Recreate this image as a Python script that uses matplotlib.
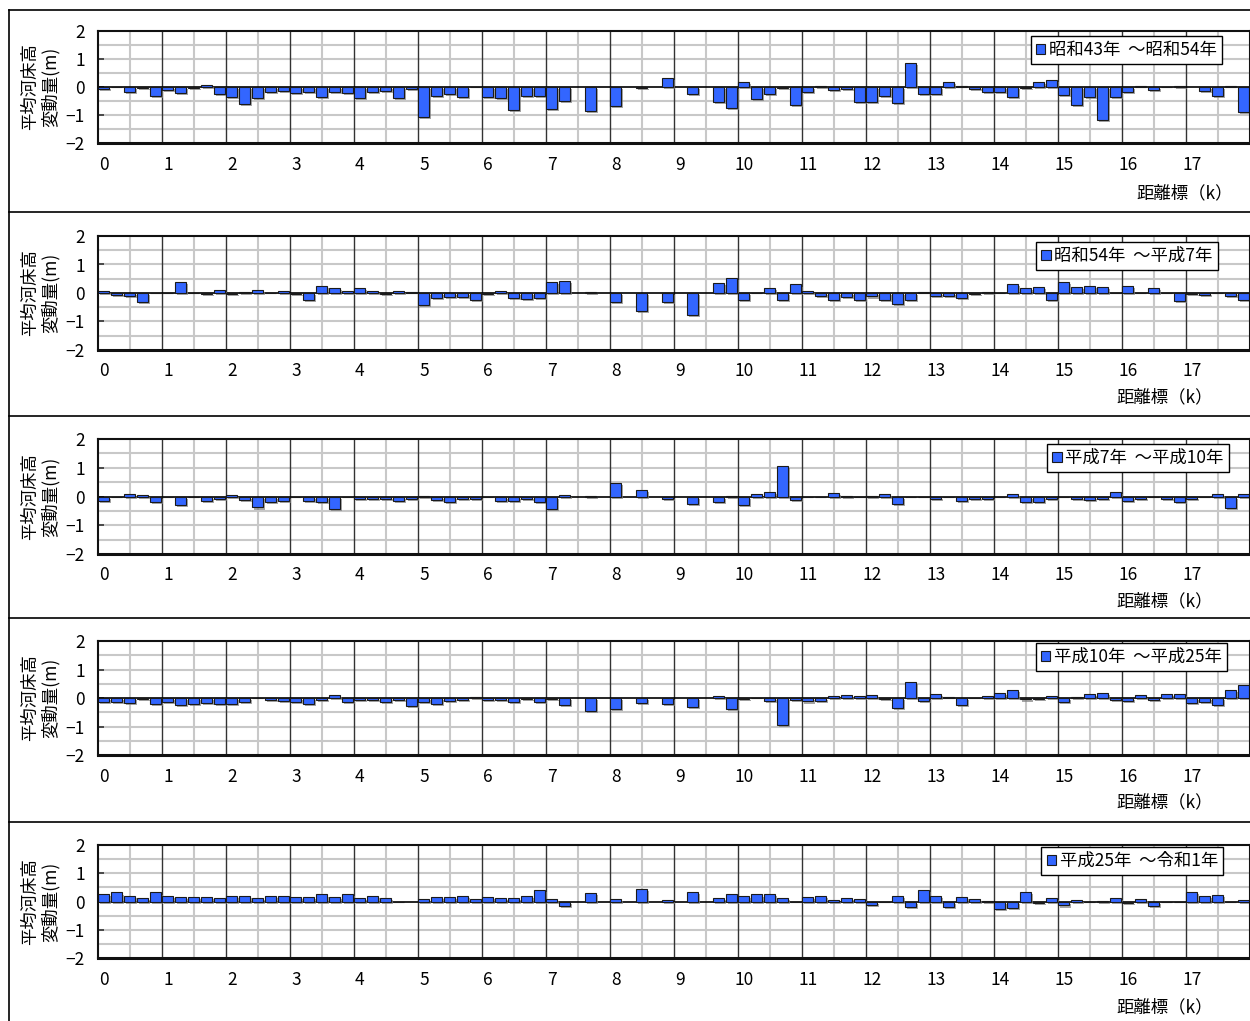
import numpy as np
import matplotlib
matplotlib.use('Agg')
import matplotlib.pyplot as plt
from matplotlib.patches import Patch
from matplotlib.lines import Line2D
import matplotlib.patheffects as pe

plt.rcParams['font.family'] = ['Noto Sans CJK JP', 'DejaVu Sans']

nan = None

# distance markers (km), one category every 0.2 km
distance_km = [round(0.2 * i, 1) for i in range(90)]
tick_values = list(range(18))
tick_labels = [str(v) for v in tick_values]
y_ticks = [2, 1, 0, -1, -2]
y_tick_labels = ['2', '1', '0', '\u22121', '\u22122']

periods = ['昭和43年  ～昭和54年', '昭和54年  ～平成7年', '平成7年  ～平成10年',
           '平成10年  ～平成25年', '平成25年  ～令和1年']

s43_54 = [-0.07, 0, -0.18, -0.02, -0.33, -0.12, -0.21, -0.02, 0.07, -0.24,
          -0.36, -0.59, -0.39, -0.18, -0.15, -0.21, -0.19, -0.36, -0.19, -0.21,
          -0.39, -0.18, -0.13, -0.39, -0.07, -1.07, -0.32, -0.26, -0.36, 0,
          -0.36, -0.39, -0.81, -0.33, -0.32, -0.78, -0.49, nan, -0.85, nan,
          -0.68, nan, -0.03, nan, 0.33, nan, -0.24, nan, -0.53, -0.76,
          0.18, -0.44, -0.24, -0.02, -0.65, -0.18, 0.04, -0.10, -0.07, -0.53,
          -0.53, -0.32, -0.57, 0.87, -0.26, -0.24, 0.18, 0.02, -0.07, -0.19,
          -0.19, -0.36, -0.02, 0.19, 0.24, -0.30, -0.65, -0.34, -1.19, -0.34,
          -0.19, 0.02, -0.10, 0, 0.05, nan, -0.13, -0.32, 0.02, -0.90]

s54_h7 = [0.07, -0.08, -0.10, -0.33, 0, 0, 0.38, 0, -0.02, 0.10,
          -0.02, 0.05, 0.12, 0, 0.07, -0.02, -0.24, 0.26, 0.18, 0.07,
          0.18, 0.06, -0.02, 0.06, 0.02, -0.42, -0.18, -0.13, -0.14, -0.24,
          -0.02, 0.07, -0.18, -0.21, -0.17, 0.39, 0.42, nan, 0.04, nan,
          -0.31, nan, -0.63, nan, -0.32, nan, -0.78, nan, 0.34, 0.52,
          -0.25, 0, 0.18, -0.25, 0.30, 0.07, -0.10, -0.26, -0.14, -0.25,
          -0.12, -0.26, -0.39, -0.25, 0.02, -0.10, -0.10, -0.18, -0.03, 0.03,
          0, 0.33, 0.18, 0.21, -0.26, 0.40, 0.21, 0.25, 0.20, 0,
          0.26, 0, 0.18, 0, -0.28, -0.03, -0.08, 0, -0.09, -0.25]

h7_h10 = [-0.15, -0.02, 0.08, 0.06, -0.20, -0.03, -0.29, 0, -0.15, -0.07,
          0.04, -0.12, -0.38, -0.18, -0.14, -0.03, -0.16, -0.19, -0.44, -0.02,
          -0.10, -0.10, -0.10, -0.15, -0.10, 0.03, -0.13, -0.19, -0.08, -0.07,
          0, -0.15, -0.15, -0.10, -0.19, -0.44, 0.04, nan, 0.03, nan,
          0.46, nan, 0.22, nan, -0.10, nan, -0.26, nan, -0.18, 0.03,
          -0.28, 0.07, 0.15, 1.05, -0.12, -0.02, 0, 0.12, 0.03, 0,
          0.03, 0.10, -0.25, -0.02, -0.02, -0.08, 0, -0.15, -0.08, -0.08,
          -0.02, 0.08, -0.20, -0.19, -0.08, -0.03, -0.08, -0.13, -0.09, 0.16,
          -0.14, -0.09, -0.03, -0.07, -0.18, -0.08, -0.02, 0.08, -0.40, 0.10]

h10_h25 = [-0.15, -0.15, -0.16, -0.04, -0.22, -0.13, -0.26, -0.22, -0.19, -0.22,
           -0.22, -0.15, 0, -0.07, -0.10, -0.13, -0.22, -0.08, 0.10, -0.15,
           -0.07, -0.07, -0.14, -0.07, -0.29, -0.15, -0.22, -0.10, -0.07, 0.04,
           -0.07, -0.07, -0.13, -0.03, -0.15, -0.03, -0.26, nan, -0.47, nan,
           -0.40, nan, -0.18, nan, -0.22, nan, -0.32, nan, 0.07, -0.39,
           -0.02, 0, -0.10, -0.95, -0.08, -0.12, -0.09, 0.07, 0.10, 0.06,
           0.12, -0.02, -0.35, 0.55, -0.09, 0.14, 0.02, -0.25, 0, 0.07,
           0.18, 0.29, -0.05, -0.02, 0.07, -0.13, 0.05, 0.13, 0.18, -0.08,
           -0.10, 0.09, -0.07, 0.15, 0.15, -0.16, -0.15, -0.25, 0.27, 0.46]

h25_r1 = [0.26, 0.32, 0.21, 0.12, 0.32, 0.18, 0.16, 0.16, 0.16, 0.14,
          0.18, 0.21, 0.13, 0.21, 0.18, 0.16, 0.16, 0.25, 0.16, 0.28,
          0.13, 0.20, 0.13, -0.02, nan, 0.10, 0.16, 0.16, 0.20, 0.10,
          0.15, 0.14, 0.14, 0.18, 0.42, 0.10, -0.16, nan, 0.30, nan,
          0.10, nan, 0.46, nan, 0.07, nan, 0.35, nan, 0.14, 0.25,
          0.19, 0.25, 0.27, 0.13, 0, 0.15, 0.19, 0.07, 0.12, 0.10,
          -0.13, 0, 0.18, -0.18, 0.40, 0.18, -0.19, 0.16, 0.08, 0.03,
          -0.27, -0.22, 0.33, -0.06, 0.12, -0.14, 0.06, -0.02, 0.03, 0.14,
          -0.05, 0.08, -0.15, -0.02, 0, 0.33, 0.21, 0.22, 0, 0.04]

series = [s43_54, s54_h7, h7_h10, h10_h25, h25_r1]

W, H = 1250, 1021
fig = plt.figure(figsize=(W / 100, H / 100), dpi=100)

ax_px = [(31, 143), (236, 350), (439, 554), (641, 755), (845, 958)]
legend_px = [(1222, 36), (1218, 242), (1229, 444), (1227, 643), (1223, 847)]
xlabel_px = [(1185, 193), (1165, 397), (1165, 601), (1165, 802), (1165, 1007)]
L, R = 97.5, 1249.5

bar_color = '#3366FF'
edge_color = '#1a1a1a'
FS = 12.5

for i in range(5):
    top, bot = ax_px[i]
    ax = fig.add_axes([L / W, 1 - bot / H, (R - L) / W, (bot - top) / H])
    vals = np.array([np.nan if v is None else v for v in series[i]], dtype=float)
    bars = ax.bar(distance_km, vals, width=0.2 * 0.86, color=bar_color,
                  edgecolor=edge_color, linewidth=0.8, zorder=3)
    for b in bars:
        b.set_path_effects([pe.SimplePatchShadow(offset=(1.5, -1.5),
                                                 shadow_rgbFace='#808080', alpha=0.7),
                            pe.Normal()])
    ax.set_xlim(-0.1, 17.9)
    ax.set_ylim(-2, 2)
    for y in [-1.5, -1, -0.5, 0.5, 1, 1.5]:
        ax.axhline(y, color='#C8C8C8', lw=1.5, zorder=1)
    for n in range(18):
        ax.axvline(n + 0.4, color='#C8C8C8', lw=1.5, zorder=1)
    for n in range(1, 18):
        ax.axvline(n - 0.1, color='#333333', lw=1.0, zorder=2)
    ax.axhline(0, color='black', lw=1.2, zorder=2.5)

    ax.set_xticks(tick_values)
    ax.set_xticklabels(tick_labels, fontsize=FS)
    ax.tick_params(axis='x', length=0, pad=9)
    ax.set_yticks(y_ticks)
    ax.set_yticklabels(y_tick_labels, fontsize=FS)
    ax.tick_params(axis='y', direction='in', length=4, width=1.2, pad=9, color='#333333')
    for s in ax.spines.values():
        s.set_linewidth(1.5)
        s.set_color('#111111')
        s.set_zorder(5)
    ax.spines['bottom'].set_linewidth(2.2)

    lx, ly = legend_px[i]
    leg = ax.legend(handles=[Patch(facecolor=bar_color, edgecolor=edge_color, linewidth=0.8)],
                    labels=[periods[i]], loc='upper right',
                    bbox_to_anchor=((lx - L) / (R - L), (bot - ly) / (bot - top)),
                    borderaxespad=0, fontsize=FS, frameon=True, fancybox=False,
                    framealpha=1, edgecolor='black', borderpad=0.3,
                    handlelength=0.55, handleheight=0.55, handletextpad=0.2)
    leg.get_frame().set_linewidth(1.0)
    leg.set_zorder(10)

    fig.text(40 / W, 1 - ((top + bot) / 2) / H, '平均河床高\n変動量(m)', rotation=90,
             ha='center', va='center', fontsize=FS, linespacing=1.15,
             multialignment='center')
    xx, yy = xlabel_px[i]
    fig.text(xx / W, 1 - yy / H, '距離標（k）', ha='center', va='center', fontsize=FS)

# outer frames of the chart boxes
fig.add_artist(Line2D([9 / W, 9 / W], [0, 1 - 10 / H], transform=fig.transFigure,
                      color='black', lw=1.2))
for yb in [10, 212, 416, 618, 822]:
    fig.add_artist(Line2D([9 / W, 1], [1 - yb / H, 1 - yb / H], transform=fig.transFigure,
                          color='black', lw=1.2))

fig.savefig('out.png', dpi=100)
